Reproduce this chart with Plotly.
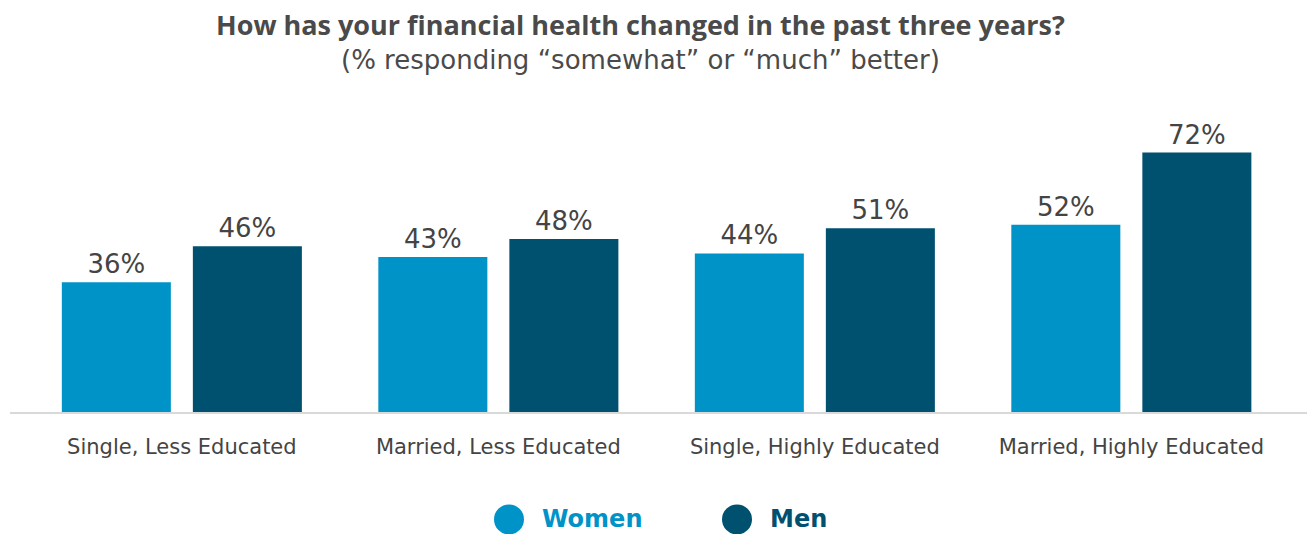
import plotly.graph_objects as go

# Survey groups and share responding "somewhat" or "much" better (%)
categories = ["Single, Less Educated", "Married, Less Educated",
              "Single, Highly Educated", "Married, Highly Educated"]
women = [36, 43, 44, 52]
men = [46, 48, 51, 72]

WOMEN_COLOR = "#0093C8"
MEN_COLOR = "#00506F"
TEXT_COLOR = "#444444"
BODY_FONT = "'DejaVu Sans', sans-serif"
TITLE_FONT = "'Open Sans', sans-serif"

W, H = 1307, 534
PLOT_LEFT, PLOT_TOP, PLOT_BOTTOM = 10, 100, 411.7
PLOT_H = PLOT_BOTTOM - PLOT_TOP
PLOT_W = W - PLOT_LEFT


def px_to_paper(px, py):
    """Convert page pixels to paper coordinates of the plot area."""
    return (px - PLOT_LEFT) / PLOT_W, (PLOT_BOTTOM - py) / PLOT_H


fig = go.Figure()
for name, vals, color in [("Women", women, WOMEN_COLOR), ("Men", men, MEN_COLOR)]:
    fig.add_trace(go.Bar(
        x=categories, y=vals, name=name,
        marker=dict(color=color, line=dict(width=0)),
        text=[f"{v}%" for v in vals], textposition="outside",
        textfont=dict(family=BODY_FONT, size=26, color=TEXT_COLOR),
        cliponaxis=False, showlegend=False,
        hovertemplate="%{x}<br>" + name + ": %{y}%<extra></extra>",
    ))

shapes = []
annotations = []

# Legend: filled circles with coloured bold labels
legend_items = [("Women", WOMEN_COLOR, 509, 540), ("Men", MEN_COLOR, 737, 768)]
for label, color, cx, tx in legend_items:
    r = 15
    x0, y0 = px_to_paper(cx - r, 519 + r)
    x1, y1 = px_to_paper(cx + r, 519 - r)
    shapes.append(dict(type="circle", xref="paper", yref="paper",
                       x0=x0, x1=x1, y0=y0, y1=y1,
                       fillcolor=color, line=dict(width=0)))
    ax, ay = px_to_paper(tx, 519)
    annotations.append(dict(text=f"<b>{label}</b>", xref="paper", yref="paper",
                            x=ax, y=ay, xanchor="left", yanchor="middle", showarrow=False,
                            font=dict(family=BODY_FONT, size=24, color=color)))

# Title and subtitle
tx, ty = px_to_paper(640, 25)
annotations.append(dict(text="<b>How has your financial health changed in the past three years?</b>",
                        xref="paper", yref="paper", x=tx, y=ty,
                        xanchor="center", yanchor="middle", showarrow=False,
                        font=dict(family=TITLE_FONT, size=27, color="#4a4a4a")))
sx, sy = px_to_paper(640, 60)
annotations.append(dict(text="(% responding “somewhat” or “much” better)",
                        xref="paper", yref="paper", x=sx, y=sy,
                        xanchor="center", yanchor="middle", showarrow=False,
                        font=dict(family=BODY_FONT, size=26, color="#4a4a4a")))

fig.update_layout(
    width=W, height=H,
    margin=dict(l=PLOT_LEFT, r=0, t=PLOT_TOP, b=H - PLOT_BOTTOM),
    paper_bgcolor="white", plot_bgcolor="white",
    barmode="group", bargap=0.172, bargroupgap=0.168,
    xaxis=dict(range=[-0.543, 3.555], showline=True, linecolor="#D9D9D9", linewidth=2,
               ticks="", showgrid=False, zeroline=False, ticklabelstandoff=15,
               tickfont=dict(family=BODY_FONT, size=21, color=TEXT_COLOR)),
    yaxis=dict(range=[0, 86.6], visible=False, showgrid=False, zeroline=False),
    shapes=shapes, annotations=annotations,
    font=dict(family=BODY_FONT, color=TEXT_COLOR),
)

fig.write_html("out.html")
